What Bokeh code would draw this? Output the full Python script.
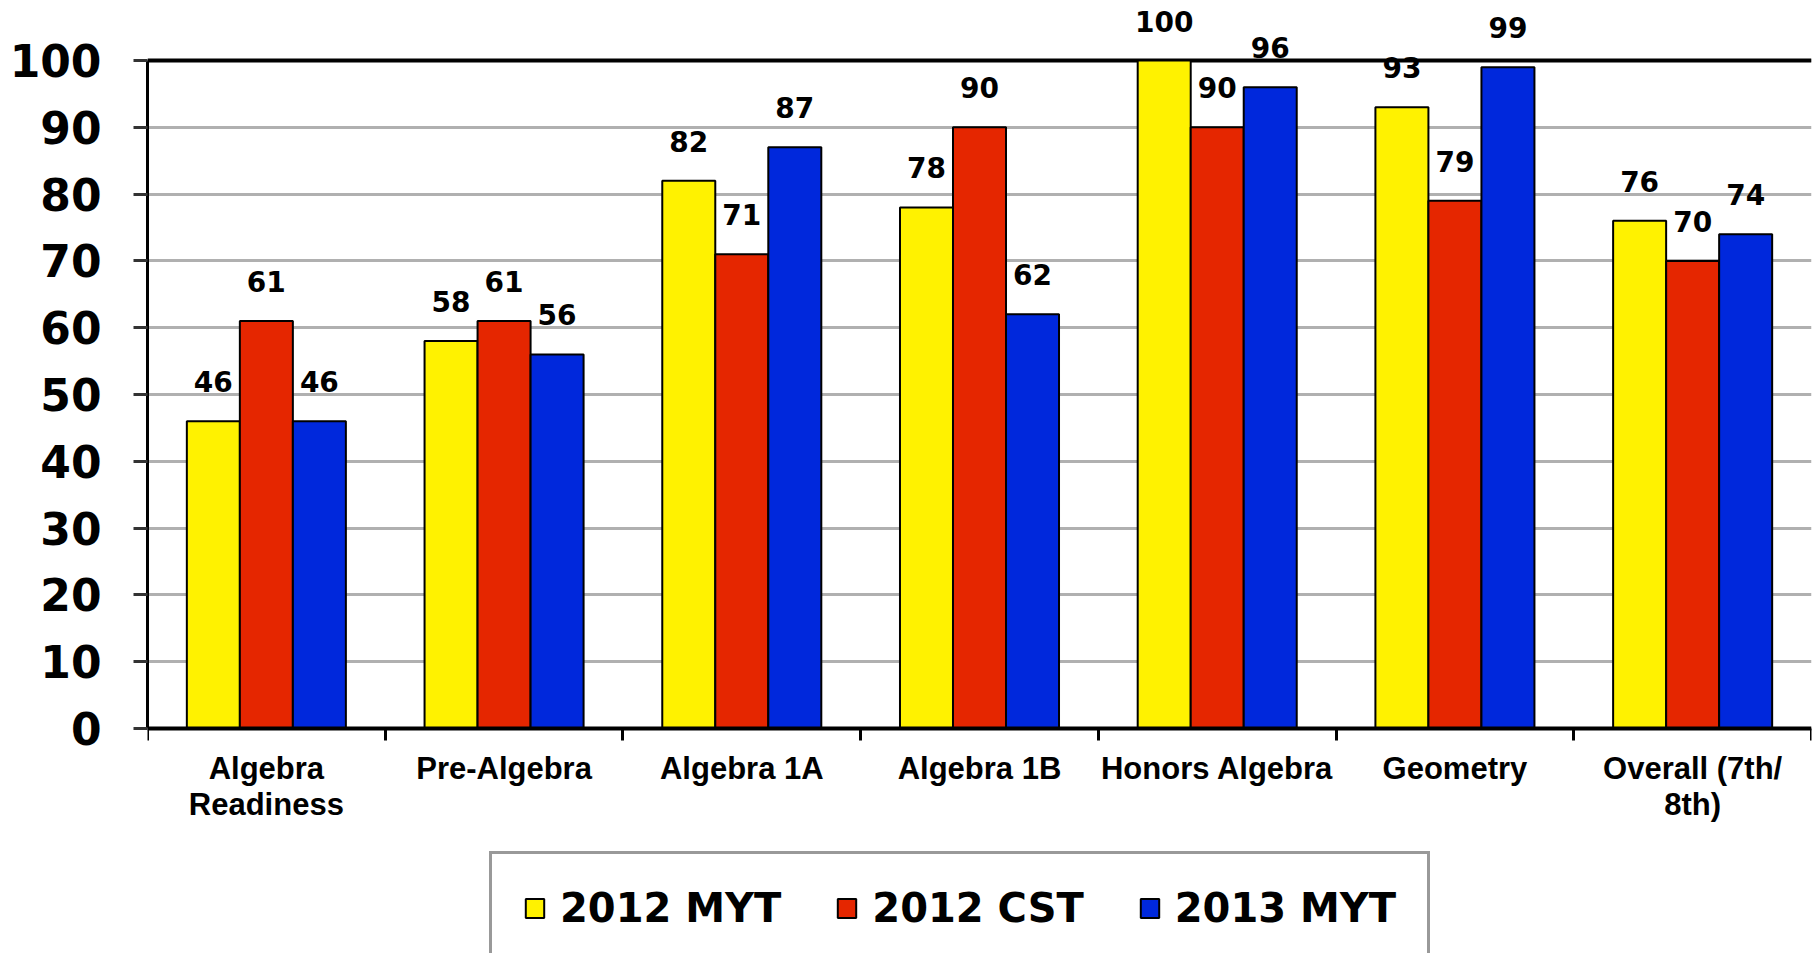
from bokeh.plotting import figure
from bokeh.models import (ColumnDataSource, FixedTicker, LabelSet, Legend,
                          LegendItem, Range1d, Grid)
from bokeh.core.properties import value
from bokeh.embed import file_html
from bokeh.resources import INLINE

# ---- data ----
categories = ["Algebra\nReadiness", "Pre-Algebra", "Algebra 1A", "Algebra 1B",
              "Honors Algebra", "Geometry", "Overall (7th/\n8th)"]
series_names = ["2012 MYT", "2012 CST", "2013 MYT"]
myt_2012 = [46, 58, 82, 78, 100, 93, 76]
cst_2012 = [61, 61, 71, 90, 90, 79, 70]
myt_2013 = [46, 56, 87, 62, 96, 99, 74]
y_ticks = [0, 10, 20, 30, 40, 50, 60, 70, 80, 90, 100]
y_max = 100

series_values = [myt_2012, cst_2012, myt_2013]
colors = ["#FFF200", "#E52600", "#0028DC"]

n = len(categories)
bar_w = 0.223
centers = [i + 0.5 for i in range(n)]
bounds = [i for i in range(n + 1)]

p = figure(width=1818, height=953,
           x_range=Range1d(0, n), y_range=Range1d(-33.68, 107.49),
           output_backend="svg", toolbar_location=None,
           min_border_left=147, min_border_right=7,
           min_border_top=10, min_border_bottom=0)

p.background_fill_color = "white"
p.border_fill_color = "white"
p.outline_line_color = None

renderers = []
for k, (vals, col) in enumerate(zip(series_values, colors)):
    xs = [c + (k - 1) * bar_w for c in centers]
    src = ColumnDataSource(dict(x=xs, top=vals, label=[str(v) for v in vals]))
    r = p.vbar(x="x", top="top", bottom=0, width=bar_w, source=src,
               fill_color=col, line_color="black", line_width=2)
    renderers.append(r)
    labels = LabelSet(x="x", y="top", text="label", source=src,
                      text_align="center", text_baseline="alphabetic",
                      y_offset=29, text_font=value("DejaVu Sans"),
                      text_font_style="bold", text_font_size="28px",
                      text_color="black")
    p.add_layout(labels)

# ---- y axis ----
ya = p.yaxis[0]
ya.ticker = FixedTicker(ticks=y_ticks)
ya.bounds = (0, y_max)
ya.major_label_text_font = "DejaVu Sans"
ya.major_label_text_font_style = "bold"
ya.major_label_text_font_size = "44px"
ya.major_label_text_color = "black"
ya.major_label_standoff = 32
ya.major_tick_out = 14
ya.major_tick_in = 0
ya.major_tick_line_width = 3
ya.major_tick_line_color = "#333333"
ya.minor_tick_line_color = None
ya.axis_line_color = "black"
ya.axis_line_width = 3

# ---- x axis ----
xa = p.xaxis[0]
xa.fixed_location = 0
xa.ticker = FixedTicker(ticks=centers, minor_ticks=bounds)
xa.major_label_overrides = {c: lab for c, lab in zip(centers, categories)}
xa.major_label_text_font = "Liberation Sans"
xa.major_label_text_font_style = "bold"
xa.major_label_text_font_size = "31px"
xa.major_label_text_line_height = 1.03
xa.major_label_text_color = "black"
xa.major_label_standoff = 10
xa.major_tick_line_color = None
xa.major_tick_out = 12
xa.major_tick_in = 0
xa.minor_tick_out = 12
xa.minor_tick_in = 0
xa.minor_tick_line_width = 3
xa.minor_tick_line_color = "black"
xa.axis_line_color = "black"
xa.axis_line_width = 4

# ---- grid ----
p.xgrid.visible = False
p.ygrid.grid_line_color = "#B0B0B0"
p.ygrid.grid_line_width = 3

top_line = Grid(dimension=1, ticker=FixedTicker(ticks=[y_max]),
                grid_line_color="black", grid_line_width=4)
right_line = Grid(dimension=0, ticker=FixedTicker(ticks=[n]), bounds=(0, y_max),
                  grid_line_color="#555555", grid_line_width=3)
p.add_layout(top_line, "center")
p.add_layout(right_line, "center")

# ---- legend ----
legend = Legend(items=[LegendItem(label=nm, renderers=[r])
                       for nm, r in zip(series_names, renderers)],
                location=(342, -12), orientation="horizontal",
                label_text_font="DejaVu Sans", label_text_font_style="bold",
                label_text_font_size="40px", label_text_color="black",
                glyph_width=23, glyph_height=24, label_standoff=14,
                spacing=54, padding=31, margin=0,
                border_line_color="#333333", border_line_width=3,
                background_fill_color="white", background_fill_alpha=1.0)
p.add_layout(legend, "center")

open("out.html", "w").write(file_html(p, INLINE))
